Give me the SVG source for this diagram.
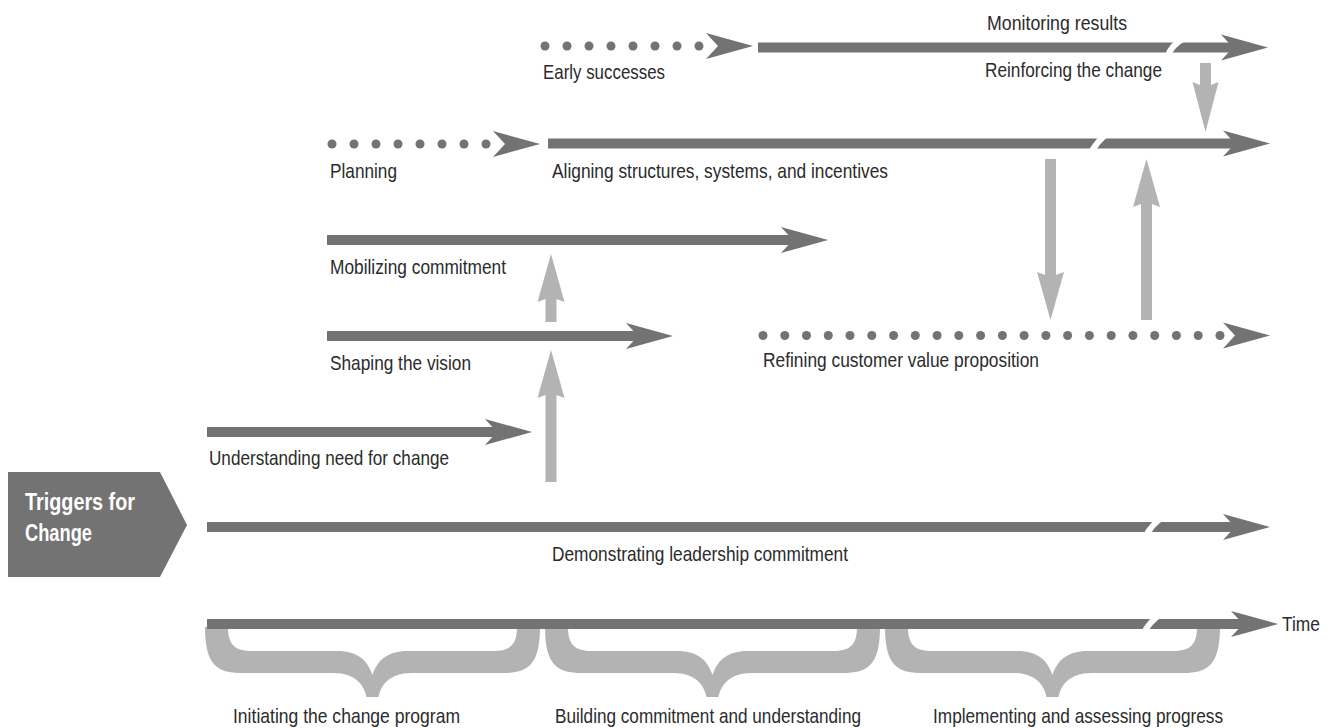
<svg xmlns="http://www.w3.org/2000/svg" xmlns:xlink="http://www.w3.org/1999/xlink" width="1330" height="728" viewBox="0 0 1330 728">
<style>
.bar{fill:#737373}
.dot{fill:#737373}
.lt{fill:#b3b3b3}
.brk{stroke:#ffffff;stroke-width:6;fill:none;stroke-linecap:butt}
.lbl{font-family:"Liberation Sans Narrow","Liberation Sans",Arial,sans-serif;font-size:21px;fill:#2b2b2b}
.trig{font-family:"Liberation Sans Narrow","Liberation Sans",Arial,sans-serif;font-size:23px;font-weight:bold;fill:#ffffff}
</style>
<defs>
<path id="brace" class="lt" d="M-2,627 C-2,665 10,673 35,673 L125.5,673 C150.5,673 157.5,687 159.5,697 L171.5,697 C173.5,687 180.5,673 205.5,673 L296,673 C321,673 333,665 333,627 L310,627 C310,645 303,651 286,651 L200.5,651 C180.5,651 170.5,660 165.5,675 C160.5,660 150.5,651 130.5,651 L45,651 C28,651 21,645 21,627 Z"/>
</defs>

<g id="triggers">
<polygon class="bar" points="8,472 160,472 187,525 160,577 8,577"/>
<text class="trig" x="25" y="510" textLength="110" lengthAdjust="spacingAndGlyphs">Triggers for</text>
<text class="trig" x="25" y="541" textLength="67" lengthAdjust="spacingAndGlyphs">Change</text>
</g>

<g id="braces">
<use xlink:href="#brace" href="#brace" transform="translate(207,0)"/>
<use xlink:href="#brace" href="#brace" transform="translate(547,0)"/>
<use xlink:href="#brace" href="#brace" transform="translate(887,0)"/>
</g>

<g id="connectors">
<!-- light gray feedback arrows -->
<polygon class="lt" points="551,350 564.5,398 556.5,395 556.5,482 545.5,482 545.5,395 537.5,398"/>
<polygon class="lt" points="551,254 564.5,302 556.5,299 556.5,322 545.5,322 545.5,299 537.5,302"/>
<polygon class="lt" points="1045,159 1056,159 1056,275 1064,272 1050.5,320 1037,272 1045,275"/>
<polygon class="lt" points="1146.5,159 1160,207 1152,204 1152,320 1141,320 1141,204 1133,207"/>
<polygon class="lt" points="1200,63 1211,63 1211,85 1218.5,82 1205.5,132 1192.5,82 1200,85"/>
</g>

<g id="row-early-successes">
<g class="dot">
<circle cx="545" cy="46" r="4.5"/><circle cx="567" cy="46" r="4.5"/><circle cx="589" cy="46" r="4.5"/><circle cx="611" cy="46" r="4.5"/>
<circle cx="633" cy="46" r="4.5"/><circle cx="655" cy="46" r="4.5"/><circle cx="677" cy="46" r="4.5"/><circle cx="699" cy="46" r="4.5"/>
</g>
<polygon class="bar" points="753,46 706,33 718,46 706,59"/>
<text class="lbl" x="543" y="79" textLength="122" lengthAdjust="spacingAndGlyphs">Early successes</text>
</g>

<g id="row-monitoring">
<rect class="bar" x="758" y="42.5" width="482" height="10"/>
<polygon class="bar" points="1268,47.5 1221,34.5 1233,47.5 1221,60.5"/>
<path class="brk" d="M1167,57 Q1172,44 1185,38"/>
<text class="lbl" x="987" y="30" textLength="140" lengthAdjust="spacingAndGlyphs">Monitoring results</text>
<text class="lbl" x="985" y="77" textLength="177" lengthAdjust="spacingAndGlyphs">Reinforcing the change</text>
</g>

<g id="row-planning">
<g class="dot">
<circle cx="332" cy="144" r="4.5"/><circle cx="354" cy="144" r="4.5"/><circle cx="376" cy="144" r="4.5"/><circle cx="398" cy="144" r="4.5"/>
<circle cx="420" cy="144" r="4.5"/><circle cx="442" cy="144" r="4.5"/><circle cx="464" cy="144" r="4.5"/><circle cx="486" cy="144" r="4.5"/>
</g>
<polygon class="bar" points="540,144 493,131 505,144 493,157"/>
<text class="lbl" x="330" y="178" textLength="67" lengthAdjust="spacingAndGlyphs">Planning</text>
</g>

<g id="row-aligning">
<rect class="bar" x="548" y="138.5" width="692" height="10"/>
<polygon class="bar" points="1270,143.5 1223,130.5 1235,143.5 1223,156.5"/>
<path class="brk" d="M1090,154 Q1098,140 1108,133"/>
<text class="lbl" x="552" y="178" textLength="336" lengthAdjust="spacingAndGlyphs">Aligning structures, systems, and incentives</text>
</g>

<g id="row-mobilizing">
<rect class="bar" x="327" y="235" width="470" height="10"/>
<polygon class="bar" points="828,240 781,227 793,240 781,253"/>
<text class="lbl" x="330" y="274" textLength="176" lengthAdjust="spacingAndGlyphs">Mobilizing commitment</text>
</g>

<g id="row-shaping">
<rect class="bar" x="327" y="331" width="316" height="10"/>
<polygon class="bar" points="673,336 626,323 638,336 626,349"/>
<text class="lbl" x="330" y="370" textLength="141" lengthAdjust="spacingAndGlyphs">Shaping the vision</text>
</g>

<g id="row-refining">
<g class="dot">
<circle cx="763" cy="335.5" r="4.5"/><circle cx="784.8" cy="335.5" r="4.5"/><circle cx="806.5" cy="335.5" r="4.5"/><circle cx="828.3" cy="335.5" r="4.5"/>
<circle cx="850" cy="335.5" r="4.5"/><circle cx="871.8" cy="335.5" r="4.5"/><circle cx="893.6" cy="335.5" r="4.5"/><circle cx="915.3" cy="335.5" r="4.5"/>
<circle cx="937.1" cy="335.5" r="4.5"/><circle cx="958.8" cy="335.5" r="4.5"/><circle cx="980.6" cy="335.5" r="4.5"/><circle cx="1002.4" cy="335.5" r="4.5"/>
<circle cx="1024.1" cy="335.5" r="4.5"/><circle cx="1045.9" cy="335.5" r="4.5"/><circle cx="1067.6" cy="335.5" r="4.5"/><circle cx="1089.4" cy="335.5" r="4.5"/>
<circle cx="1111.2" cy="335.5" r="4.5"/><circle cx="1132.9" cy="335.5" r="4.5"/><circle cx="1154.7" cy="335.5" r="4.5"/><circle cx="1176.4" cy="335.5" r="4.5"/>
<circle cx="1198.2" cy="335.5" r="4.5"/><circle cx="1220" cy="335.5" r="4.5"/>
</g>
<polygon class="bar" points="1270,335.5 1223,322.5 1235,335.5 1223,348.5"/>
<text class="lbl" x="763" y="367" textLength="276" lengthAdjust="spacingAndGlyphs">Refining customer value proposition</text>
</g>

<g id="row-understanding">
<rect class="bar" x="207" y="427" width="290" height="10"/>
<polygon class="bar" points="532,432 485,419 497,432 485,445"/>
<text class="lbl" x="209" y="465" textLength="240" lengthAdjust="spacingAndGlyphs">Understanding need for change</text>
</g>

<g id="row-demonstrating">
<rect class="bar" x="207" y="522" width="1035" height="10"/>
<polygon class="bar" points="1270,527 1223,514 1235,527 1223,540"/>
<path class="brk" d="M1145,537 Q1152,524 1163,517"/>
<text class="lbl" x="552" y="561" textLength="296" lengthAdjust="spacingAndGlyphs">Demonstrating leadership commitment</text>
</g>

<g id="timeline">
<rect class="bar" x="207" y="619" width="1045" height="10"/>
<polygon class="bar" points="1278,624 1231,611 1243,624 1231,637"/>
<path class="brk" d="M1143,634 Q1150,621 1161,614"/>
<text class="lbl" x="1282" y="631" textLength="38" lengthAdjust="spacingAndGlyphs">Time</text>
</g>

<g id="phase-labels">
<text class="lbl" x="233" y="723" textLength="227" lengthAdjust="spacingAndGlyphs">Initiating the change program</text>
<text class="lbl" x="555" y="723" textLength="306" lengthAdjust="spacingAndGlyphs">Building commitment and understanding</text>
<text class="lbl" x="933" y="723" textLength="290" lengthAdjust="spacingAndGlyphs">Implementing and assessing progress</text>
</g>
</svg>
